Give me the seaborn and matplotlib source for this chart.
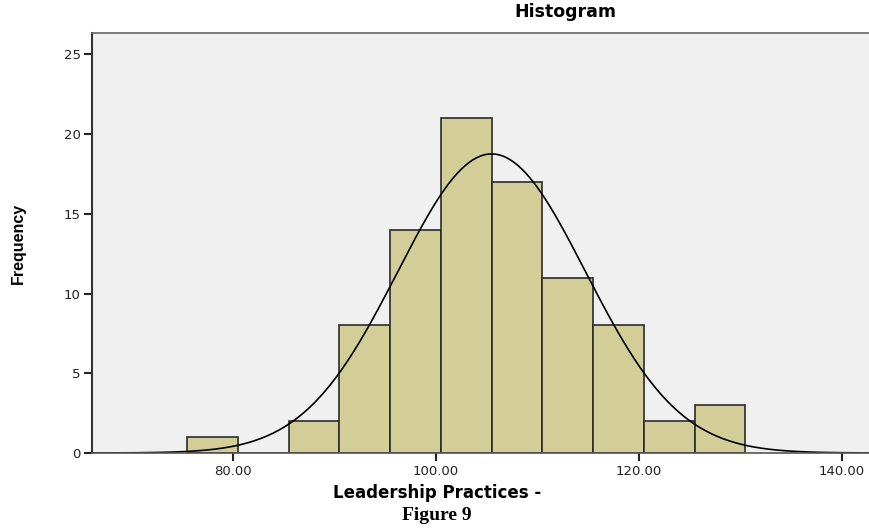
import numpy as np
import pandas as pd
import matplotlib
matplotlib.use("Agg")
import matplotlib.pyplot as plt
import seaborn as sns

# binned scores (bin centres) and frequencies
bin_centers = [78, 83, 88, 93, 98, 103, 108, 113, 118, 123, 128]
frequencies = [1, 0, 2, 8, 14, 21, 17, 11, 8, 2, 3]
bin_width = 5
# fitted normal curve
curve_mean = 105.5
curve_sd = 9.25

x_ticks = [80, 100, 120, 140]
y_ticks = [0, 5, 10, 15, 20, 25]

df = pd.DataFrame({"score": bin_centers, "freq": frequencies})
edges = [c - bin_width / 2 for c in bin_centers] + [bin_centers[-1] + bin_width / 2]

sns.set_style("white")
fig = plt.figure(figsize=(8.7, 5.3), dpi=100)
ax = fig.add_axes([0.1057, 0.1453, 0.8943, 0.7925])
ax.set_facecolor("#f0f0f0")

sns.histplot(data=df, x="score", weights="freq", bins=edges, ax=ax,
             color="#d3ce97", edgecolor="#2b2b2b", linewidth=1.2, alpha=1)

# normal curve scaled to the histogram counts
xs = np.linspace(66, 143, 400)
n = sum(frequencies)
ys = n * bin_width / (curve_sd * np.sqrt(2 * np.pi)) * np.exp(-0.5 * ((xs - curve_mean) / curve_sd) ** 2)
sns.lineplot(x=xs, y=ys, ax=ax, color="black", linewidth=1.2)

ax.set_xlim(66.1, 142.8)
ax.set_ylim(0, 26.35)
ax.set_xticks(x_ticks)
ax.set_xticklabels([f"{t:.2f}" for t in x_ticks])
ax.set_yticks(y_ticks)
ax.tick_params(axis="both", direction="out", length=6, width=1.5, colors="#222222",
               labelsize=9.5, labelcolor="#222222", pad=2)
ax.tick_params(axis="x", bottom=True, pad=3)
ax.tick_params(axis="y", left=True)

ax.spines["left"].set_color("#333333")
ax.spines["left"].set_linewidth(1.5)
ax.spines["bottom"].set_color("#555555")
ax.spines["bottom"].set_linewidth(1.2)
ax.spines["top"].set_color("#666666")
ax.spines["top"].set_linewidth(1.2)
ax.spines["right"].set_visible(False)

ax.set_xlabel("")
ax.set_ylabel("")

fig.text(0.65, 0.977, "Histogram", ha="center", va="center", fontsize=12.5,
         fontweight="bold", family="DejaVu Sans", color="black")
fig.text(0.021, 0.541, "Frequency", ha="center", va="center", rotation=90,
         fontsize=11.5, fontweight="bold", family=["Liberation Sans Narrow", "Liberation Sans"],
         color="black")
fig.text(0.502, 0.07, "Leadership Practices -", ha="center", va="center",
         fontsize=12, fontweight="bold", family="DejaVu Sans", color="black")
fig.text(0.502, 0.027, "Figure 9", ha="center", va="center",
         fontsize=14, fontweight="bold", family="Liberation Serif", color="black")

fig.savefig("out.png", dpi=100)
